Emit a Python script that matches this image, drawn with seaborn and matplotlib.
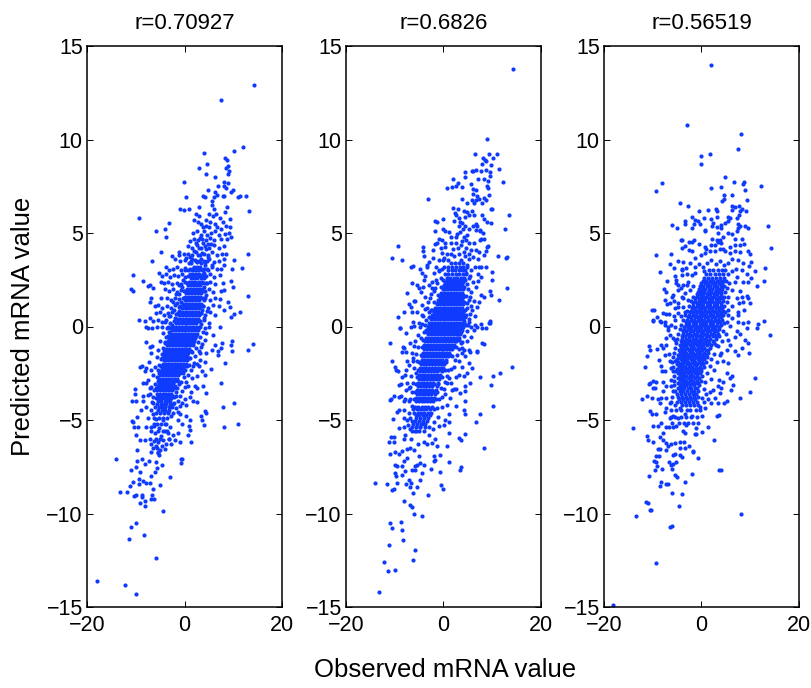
import matplotlib
matplotlib.use("Agg")
import matplotlib.pyplot as plt
import pandas as pd
import seaborn as sns

titles = ["r=0.70927", "r=0.6826", "r=0.56519"]
x_ticks = [-20, 0, 20]
y_ticks = [-15, -10, -5, 0, 5, 10, 15]

# points that can be told apart (observed, predicted)
points_a = [
    (14.3,12.9),(7.5,12.1),(12.1,9.6),(10.2,9.4),(3.9,9.3),(8.3,9.0),(8.8,8.9),(4.7,8.7),(2.9,8.5),(9.0,8.6),(8.5,8.5),(9.2,8.3),
    (9.0,8.15),(4.5,8.15),(6.3,8.0),(-0.1,7.75),(8.2,7.75),(8.9,7.65),(6.8,7.5),(8.0,7.5),(4.9,7.3),(8.6,7.4),(9.5,7.2),(9.9,7.3),
    (6.3,7.2),(6.7,7.05),(7.9,7.0),(8.2,7.0),(12.6,7.0),(11.3,7.0),(11.0,6.9),(3.8,7.0),(4.3,6.9),(0.4,6.9),(6.0,6.9),(5.7,6.7),
    (2.9,6.4),(-0.9,6.3),(-0.1,6.25),(0.9,6.3),(5.6,6.5),(6.1,6.3),(8.8,6.4),(13.3,6.2),(-9.4,5.8),(-3.2,5.55),(-4.1,5.2),(-5.8,5.1),
    (-3.8,4.8),(-4.8,4.0),(-6.7,3.5),(-10.6,2.75),(-8.5,2.45),(-10.9,2.0),(-10.6,1.9),(-7.5,2.15),(-7.0,2.2),(-6.5,2.05),(13.1,3.9),
    (11.7,3.15),(13.0,1.65),(11.3,0.8),(10.2,0.65),(9.5,0.5),(-9.4,0.35),(9.4,1.05),(8.85,1.3),(10.0,2.1),(9.5,2.45),(9.75,3.1),(10.1,3.55),
    (2.4,6.0),(3.0,5.9),(5.0,6.0),(5.8,5.9),(6.5,6.0),(7.2,5.8),(8.3,6.1),(2.0,5.7),(2.8,5.6),(3.4,5.5),(4.4,5.7),(5.2,5.6),(6.3,5.5),
    (7.8,5.6),(9.4,5.75),(3.8,5.3),(4.4,5.4),(5.0,5.3),(6.6,5.3),(7.4,5.2),(8.6,5.4),(9.4,5.3),(1.8,5.0),(2.6,5.1),(3.4,4.9),(4.0,5.1),
    (4.6,4.9),(5.4,5.0),(6.2,5.1),(7.0,4.9),(8.4,4.95),(9.2,5.0),(1.9,4.7),(2.8,4.6),(3.6,4.7),(4.4,4.6),(5.2,4.75),(6.0,4.6),(7.4,4.7),
    (8.8,4.7),(9.6,4.8),(0.8,4.3),(1.6,4.2),(2.6,4.35),(3.4,4.2),(4.2,4.3),(5.0,4.2),(6.0,4.35),(7.0,4.2),(8.0,4.3),(-1.2,4.0),(-1.2,3.8),
    (-0.2,3.9),(0.8,3.9),(1.6,3.8),(2.4,4.0),(3.2,3.85),(4.0,3.9),(4.8,3.8),(5.6,4.0),(6.6,3.85),(7.6,3.9),(8.6,3.9),(-2.6,3.75),(-2.0,3.6),
    (-1.0,3.5),(0.0,3.55),(0.9,3.4),(1.6,3.6),(2.6,3.45),(3.4,3.6),(4.2,3.45),(5.0,3.6),(6.0,3.45),(7.0,3.5),(8.2,3.6),(8.0,3.3),(-3.8,3.2),
    (-3.2,3.0),(-2.4,3.1),(-1.6,3.2),(-0.8,3.0),(0.0,3.15),(0.8,3.0),(4.0,3.1),(4.8,3.0),(5.6,3.2),(6.6,3.05),(7.4,3.1),(-5.2,2.85),(-4.6,2.7),
    (-3.8,2.8),(-3.0,2.65),(-2.2,2.75),(-1.4,2.7),(-0.6,2.8),(0.2,2.65),(4.4,2.7),(5.2,2.8),(6.0,2.65),(7.2,2.75),(-4.9,2.4),(-4.2,2.3),
    (-3.3,2.4),(-2.6,2.25),(-1.6,2.35),(-0.8,2.25),(0.1,2.4),(4.4,2.3),(5.2,2.4),(6.2,2.25),(7.8,2.3),(-4.0,2.0),(-3.2,1.9),(-2.4,2.0),
    (-1.6,1.85),(-0.8,1.95),(4.2,1.9),(5.0,2.0),(5.8,1.85),(7.4,1.9),(8.2,1.95),(-6.8,1.5),(-4.8,1.5),(-3.6,1.55),(-2.8,1.4),(-2.0,1.55),
    (-1.2,1.45),(4.2,1.5),(5.2,1.4),(6.2,1.55),(7.2,1.45),(-7.0,1.3),(-6.0,1.1),(-5.4,1.15),(-4.6,1.0),(-3.6,1.1),(-2.8,1.0),(-2.0,1.15),
    (-1.2,1.05),(3.8,1.1),(4.8,1.0),(5.8,1.15),(7.0,1.1),(8.0,0.9),(-5.8,0.7),(-5.0,0.75),(-4.2,0.6),(-3.4,0.7),(-2.6,0.8),(-1.8,0.65),
    (3.4,0.7),(4.2,0.6),(5.2,0.75),(6.2,0.6),(-8.2,0.3),(-7.0,0.45),(-6.4,0.3),(-5.4,0.35),(-4.6,0.25),(-3.8,0.35),(-3.0,0.2),(3.0,0.3),
    (4.0,0.35),(5.0,0.2),(-8.0,-0.05),(-7.4,-0.1),(-6.6,-0.1),(-5.6,-0.05),(-4.6,0.0),(-3.6,-0.1),(3.2,-0.05),(4.2,-0.1),(5.0,0.0),(7.2,-0.05),
    (14.0,-0.95),(13.0,-1.25),(9.7,-0.75),(9.5,-1.0),(9.75,-1.3),(8.4,-1.95),(7.6,-0.9),(7.5,-1.15),(6.9,-1.5),(6.9,-1.3),(7.4,-3.0),(10.2,-4.1),
    (7.9,-4.3),(11.05,-5.2),(8.2,-5.4),(4.4,-3.55),(3.85,-3.2),(2.5,-3.3),(5.35,-2.25),(4.2,-2.6),(1.8,-4.0),(2.6,-4.05),(4.2,-4.5),(4.4,-4.6),
    (3.4,-4.8),(3.5,-5.0),(4.1,-5.25),(0.9,-5.3),(1.1,-5.55),(0.75,-5.8),(1.3,-6.15),(-0.7,-7.1),(-0.55,-7.1),(-0.7,-7.3),(-3.0,-8.05),(-4.4,-9.85),
    (-9.9,-10.5),(-11.05,-10.7),(-11.3,-11.35),(-8.3,-11.15),(-5.9,-12.4),(-18.0,-13.6),(-12.15,-13.85),(-9.9,-14.3),(-14.0,-7.1),(-13.3,-8.85),
    (-11.7,-8.85),(-11.1,-8.55),(-10.6,-8.3),(-9.3,-8.15),(-8.6,-8.25),(-8.0,-8.35),(-7.0,-8.35),(-11.0,-7.7),(-9.9,-7.5),(-9.75,-7.2),(-8.8,-7.1),
    (-9.2,-7.8),(-8.2,-7.35),(-7.3,-7.2),(-6.9,-8.0),(-6.1,-7.8),(-5.6,-7.55),(-5.8,-7.25),(-4.7,-7.4),(-5.1,-8.45),(-10.4,-9.05),(-10.0,-9.0),
    (-8.8,-9.0),(-8.65,-9.1),(-6.45,-8.7),(-6.6,-9.0),(-6.2,-9.2),(-6.8,-9.25),(-8.2,-9.35),(-9.05,-9.45),(-8.2,-9.6),(-9.3,-8.4),
    (-7.8,-0.85),(-7.1,-1.1),(-6.6,-1.05),(-6.8,-1.4),(-7.3,-1.9),(-9.2,-2.15),(-8.8,-2.1),(-8.0,-2.2),(-8.2,-2.4),(-6.8,-2.3),(-10.2,-3.35),
    (-10.2,-3.6),(-10.85,-4.0),(-9.9,-4.0),(-8.6,-3.7),(-8.5,-3.0),(-7.8,-3.0),(-7.5,-2.85),(-7.1,-3.3),(-7.5,-3.65),(-8.5,-4.0),(-8.0,-4.3),
    (-8.85,-4.45),(-9.75,-4.85),(-10.7,-5.05),(-10.55,-5.1),(-10.3,-5.4),(-9.55,-5.4),(-10.0,-5.8),(-9.2,-6.05),(-8.2,-6.05),(-9.75,-6.6),
    (-7.8,-5.4),(-7.5,-4.9),(-6.8,-4.45),(-6.45,-4.1),(-6.8,-5.35),(-6.3,-5.3),(-6.8,-5.6),(-6.1,-5.7),(-7.1,-6.0),(-6.9,-6.3),(-6.45,-6.5),
    (-6.95,-6.7),(-5.4,-6.75),(-5.4,-6.7),(-5.3,-6.85),(-5.9,-6.4),(-4.7,-6.4),(-4.4,-6.05),(-3.7,-6.3),(-2.7,-6.3),(-2.0,-6.05),(-1.0,-6.2),
    (-2.3,-5.8),(-1.3,-5.7),(-0.6,-5.2),(-1.3,-5.0),(-3.0,-5.35),(-3.7,-5.2),(-2.7,-4.8),(-1.0,-4.7),(0.4,-4.8),(1.2,-5.0),(-1.0,-4.25),(0.4,-4.2),
    (1.1,-3.75),(2.1,-3.2),(1.4,-3.5),(2.5,-2.65),(3.5,-2.4),(4.2,-1.9),(3.2,-1.8),(5.6,-1.25),(6.2,-1.0),(4.5,-1.4),(3.2,-1.4),(4.2,-0.7),
    (5.9,-0.45),(4.5,-0.35),(1.8,-2.1),(2.5,-2.0),
]

# busier rim around the solid middle
fringe_a = [
    (1.3,3.4),(2.2,3.55),(3.3,3.37),(4.3,3.3),(4.8,3.72),(1.1,3.72),(2.7,3.82),(3.6,3.95),(1.9,4.05),(2.9,4.22),(4.5,4.12),(3.7,4.45),(2.3,4.48),(1.2,4.55),
    (5.4,4.4),(3.1,4.75),(4.9,4.42),(0.4,3.65),(5.7,3.3),(1.7,3.1),(3.9,2.85),(3.9,2.6),(4.1,2.1),(3.9,1.4),(4.4,1.7),(3.6,0.9),(3.9,0.45),(4.6,0.85),(3.4,0.15),
    (3.7,-0.3),(3.2,-0.55),(2.7,-0.85),(3.6,-0.95),(2.4,-1.15),(2.9,-1.3),(1.6,-1.35),(2.2,-1.6),(1.2,-1.7),(1.9,-1.95),(0.9,-2.05),(1.4,-2.35),(0.2,-2.35),(0.7,-2.6),
    (-0.2,-2.7),(0.4,-2.95),(-0.7,-2.95),(0.0,-3.25),(-1.2,-3.1),(-0.5,-3.45),(-1.7,-3.5),(-1.0,-3.7),(-2.1,-3.75),(-1.4,-4.0),(-2.2,-4.1),(-1.7,-4.35),(-2.4,-4.6),
    (-1.4,-4.55),(-0.5,-4.1),(0.1,-3.9),(0.8,-3.2),(1.5,-2.75),(2.9,-2.1),(3.4,-1.1),(0.2,3.0),(-0.3,2.5),(-0.6,2.1),(-0.1,1.9),(-1.2,1.75),(-0.7,1.3),(-1.6,1.25),
    (-1.1,0.85),(-2.2,0.9),(-1.9,0.45),(-2.9,0.55),(-2.5,0.1),(-3.3,0.0),(-3.2,-0.3),(-3.8,-0.55),(-4.1,-0.85),(-4.4,-1.15),(-4.7,-1.45),(-4.9,-1.75),(-5.2,-2.05),
    (-5.5,-2.35),(-5.7,-2.7),(-6.0,-3.05),(-6.2,-3.4),(-6.4,-3.75),(-6.6,-4.05),(-4.4,-0.35),(-5.0,-0.75),(-5.4,-1.25),(-5.7,-1.65),(-6.1,-2.15),(-6.4,-2.6),(-6.8,-3.25),
    (-7.0,-3.6),(-3.9,0.25),(-3.2,0.55),(-2.3,1.3),(-1.7,1.75),(-1.2,2.2),(-6.5,-4.7),(-5.9,-4.95),(-6.2,-5.2),(-5.2,-5.45),(-4.4,-5.0),(-3.3,-4.55),(-4.1,-5.6),(-3.4,-5.7),
    (-4.8,-5.85),(-5.4,-6.15),(-6.3,-6.1),(-5.6,-6.5),(-3.1,-6.0),(-3.9,-6.55),(-5.0,-6.6),
]

# solid middle of the cloud, by band: (predicted, observed values)
core_a = [
    (3.5,[1.4,2.3,3.0,3.9,4.6]),(3.2,[1.9,2.6,3.2]),(3.1,[1.1,1.8,2.5,3.2,4.0,4.7]),(3.0,[1.5,2.1,2.8,3.5]),(2.8,[1.2,1.8,2.4,3.0,3.7]),(2.7,[0.8,1.5,2.2,2.9,3.6,4.3]),
    (2.6,[1.4,2.0,2.6,3.3]),(2.4,[1.0,1.6,2.2,2.9,3.6]),(2.3,[0.5,1.2,1.9,2.5,3.3,4.0,4.6]),(2.2,[0.8,1.4,2.0,2.6,3.2]),(2.0,[0.6,1.2,1.8,2.4,3.0,3.6]),
    (1.9,[0.1,0.8,1.5,2.1,2.7,3.3,3.9]),(1.8,[0.4,1.0,1.6,2.2,2.8,3.4]),(1.6,[0.2,0.8,1.4,2.0,2.6,3.2]),(1.5,[-0.4,0.5,1.1,1.7,2.3,2.9,3.5,4.1]),
    (1.4,[0.0,0.6,1.2,1.8,2.4,3.0]),(1.2,[-0.3,0.3,0.9,1.5,2.1,2.7,3.3]),(1.1,[-0.9,-0.1,0.6,1.2,1.9,2.5,3.1,3.7]),(1.0,[-0.6,0.0,0.6,1.2,1.8,2.4,3.0]),
    (0.8,[-0.9,-0.3,0.3,0.9,1.5,2.1,2.7]),(0.7,[-1.4,-0.7,0.0,0.7,1.3,1.9,2.6,3.3]),(0.6,[-1.2,-0.6,0.0,0.6,1.2,1.8,2.4,3.0]),(0.4,[-1.5,-0.9,-0.3,0.3,0.9,1.5,2.1,2.7]),
    (0.3,[-2.1,-1.3,-0.6,0.1,0.8,1.4,2.0,2.6,3.2]),(0.2,[-1.8,-1.2,-0.6,0.0,0.6,1.2,1.8,2.4]),(0.0,[-2.4,-1.8,-1.2,-0.6,0.0,0.6,1.2,1.8,2.4,3.0]),
    (-0.1,[-2.9,-2.1,-1.5,-0.9,-0.3,0.3,0.9,1.5,2.1,2.7]),(-0.2,[-2.6,-2.0,-1.4,-0.8,-0.2,0.4,1.0,1.6,2.2,2.8]),(-0.4,[-2.9,-2.3,-1.7,-1.1,-0.5,0.1,0.7,1.3,1.9,2.5]),
    (-0.5,[-3.4,-2.6,-2.0,-1.4,-0.7,-0.1,0.5,1.1,1.7,2.3]),(-0.6,[-3.2,-2.6,-2.0,-1.4,-0.8,-0.2,0.4,1.0,1.6,2.2]),(-0.8,[-3.4,-2.8,-2.2,-1.6,-1.0,-0.4,0.2,0.8,1.4,2.0]),
    (-0.9,[-3.9,-3.1,-2.5,-1.9,-1.3,-0.7,-0.1,0.5,1.1,1.7]),(-1.0,[-3.6,-3.0,-2.4,-1.8,-1.2,-0.6,0.0,0.6,1.2,1.8]),(-1.2,[-3.8,-3.2,-2.6,-2.0,-1.4,-0.8,-0.2,0.4,1.0]),
    (-1.3,[-4.2,-3.5,-2.9,-2.3,-1.7,-1.1,-0.5,0.1,0.7,1.3]),(-1.4,[-4.0,-3.4,-2.8,-2.2,-1.6,-1.0,-0.4,0.2,0.8]),(-1.6,[-4.2,-3.6,-3.0,-2.4,-1.8,-1.2,-0.6,0.0,0.6]),
    (-1.7,[-4.6,-3.9,-3.3,-2.7,-2.1,-1.5,-0.9,-0.3,0.3,0.9]),(-1.8,[-4.3,-3.7,-3.1,-2.5,-1.9,-1.3,-0.7,-0.1,0.5]),(-2.0,[-4.5,-3.9,-3.3,-2.7,-2.1,-1.5,-0.9,-0.3,0.3]),
    (-2.1,[-4.9,-4.2,-3.6,-3.0,-2.4,-1.8,-1.2,-0.6,0.0,0.6]),(-2.2,[-4.6,-4.0,-3.4,-2.8,-2.2,-1.6,-1.0,-0.4]),(-2.4,[-4.8,-4.2,-3.6,-3.0,-2.4,-1.8,-1.2,-0.6]),
    (-2.5,[-5.2,-4.5,-3.9,-3.3,-2.7,-2.1,-1.5,-0.9,-0.3]),(-2.6,[-5.0,-4.4,-3.8,-3.2,-2.6,-2.0,-1.4]),(-2.8,[-5.2,-4.6,-4.0,-3.4,-2.8,-2.2,-1.6]),
    (-2.9,[-5.5,-4.9,-4.3,-3.7,-3.1,-2.5,-1.9,-1.3]),(-3.0,[-5.3,-4.7,-4.1,-3.5,-2.9,-2.3]),(-3.2,[-5.5,-4.9,-4.3,-3.7,-3.1,-2.5,-1.9]),
    (-3.3,[-5.8,-5.2,-4.6,-4.0,-3.4,-2.8,-2.2,-1.6]),(-3.4,[-5.6,-5.0,-4.4,-3.8,-3.2,-2.6]),(-3.6,[-5.7,-5.1,-4.5,-3.9,-3.3,-2.7]),(-3.7,[-5.5,-4.8,-4.2,-3.6,-3.0,-2.4,-1.8]),
    (-3.8,[-5.8,-5.2,-4.6,-4.0,-3.4,-2.8]),(-4.0,[-5.5,-4.8,-4.1,-3.5,-2.9]),(-4.15,[-5.6,-4.9,-4.3,-3.7,-3.0,-2.3]),(-4.3,[-6.0,-5.3,-4.6,-3.9,-3.2,-2.5]),
    (-4.45,[-5.4,-4.7,-4.0,-3.1]),(-4.6,[-5.8,-5.0,-4.2,-3.4]),(-4.9,[-6.2,-5.3,-4.5,-3.6]),(-5.2,[-5.7,-4.9,-4.1]),(-5.6,[-5.4,-4.5,-3.5]),(-6.0,[-5.9,-5.0,-3.2]),
]

points_b = [
    (14.35,13.75),(8.85,10.05),(11.05,9.25),(9.3,9.2),(6.5,9.2),(10.2,9.0),(8.15,9.0),(8.45,8.9),(7.8,8.7),(8.8,8.85),(9.7,8.65),(8.8,8.35),
    (7.75,8.3),(11.4,8.4),(9.45,8.25),(5.75,8.3),(6.6,8.35),(6.05,8.3),(4.5,8.25),(4.5,8.0),(2.05,7.9),(7.05,7.9),(8.3,7.9),(9.45,8.05),(9.2,7.8),
    (12.2,7.75),(2.9,7.65),(2.6,7.5),(1.8,7.45),(0.75,7.4),(3.85,7.45),(5.55,7.6),(9.0,7.5),(9.2,7.4),(6.05,7.35),(6.65,7.3),(9.35,7.05),(3.85,6.8),
    (-3.15,6.8),(6.05,7.1),(6.95,7.0),(8.3,6.85),(6.6,6.75),(7.3,6.8),(4.9,6.6),(5.75,6.75),(6.25,6.6),(8.0,6.6),(8.65,6.75),(2.05,6.35),(2.9,6.3),
    (9.7,6.3),(10.0,6.3),(4.2,6.2),(4.9,6.1),(5.75,6.2),(6.25,5.95),(8.0,5.95),(8.3,5.75),(2.3,6.05),(2.5,5.95),(5.2,5.95),(13.5,5.95),(4.5,5.85),
    (-1.65,5.65),(-1.3,5.6),(-0.05,5.75),(2.1,5.65),(3.15,5.8),(3.3,5.6),(3.85,5.55),(6.6,5.5),(9.0,5.6),(9.75,5.55),(12.7,5.2),(3.2,5.4),(3.9,5.2),
    (4.5,5.35),(5.3,5.2),(6.0,5.35),(6.8,5.4),(7.5,5.1),(8.2,5.0),(-1.8,5.1),(-0.15,5.2),(0.4,5.1),(1.1,5.05),(1.45,4.8),(2.5,4.8),(3.45,5.05),(4.2,4.8),
    (4.9,4.9),(6.6,5.15),(7.4,5.15),(8.3,4.7),(7.5,4.6),(7.75,4.7),(-0.95,4.7),(-0.3,4.6),(-1.65,4.4),(-1.3,4.45),(0.4,4.45),(1.45,4.45),(2.5,4.45),
    (3.85,4.55),(5.2,4.45),(6.25,4.45),(9.0,4.25),(8.8,4.05),(9.2,4.3),(-9.4,4.3),(-4.2,4.25),(-4.25,4.05),(-2.25,4.1),(-0.6,4.2),(0.4,4.25),
    (-10.55,3.65),(-8.5,3.55),(11.1,3.75),(13.1,3.7),(12.9,3.65),(-4.0,3.75),(-2.15,3.65),(-3.0,3.45),(-6.6,3.2),(-6.3,3.25),(-4.9,3.1),(-3.4,3.2),
    (-3.4,3.3),(-1.0,3.55),(0.75,3.9),(1.45,3.9),(1.0,3.55),(2.1,3.75),(3.15,3.9),(4.2,4.0),(5.2,3.9),(6.6,4.1),(7.3,4.0),(8.3,3.8),(7.75,3.2),(8.65,3.2),
    (7.3,3.2),(10.0,2.9),(10.0,2.5),(12.95,2.05),(9.6,1.9),(9.7,1.7),(11.35,1.4),(9.5,0.3),(9.5,0.2),(7.75,0.15),(8.65,-0.1),(-6.45,2.35),(-5.4,2.2),
    (-5.1,2.05),(-4.7,1.85),(-4.0,2.5),(-3.7,2.7),(-4.4,2.85),(-4.25,2.1),(-3.0,2.2),(-2.35,2.05),(-1.65,2.05),(-1.3,2.3),(-0.6,2.6),(-2.0,2.85),(-1.0,3.0),
    (0.05,3.2),(-7.5,1.8),(-6.1,1.35),(-7.15,1.2),(-6.6,1.05),(-8.15,0.75),(-9.4,0.5),(-8.85,-0.1),(-5.75,1.35),(-6.5,0.8),(-5.4,0.8),(-4.4,1.15),(-3.7,1.6),
    (-2.7,1.5),(-4.4,0.6),(-5.1,0.2),(-6.1,0.05),(-3.4,1.0),(-2.6,0.9),(4.9,3.3),(5.7,3.0),(6.4,3.2),(7.1,2.8),(5.2,2.6),(6.0,2.4),(7.0,2.45),(7.6,2.65),
    (5.0,2.0),(5.7,1.85),(6.6,2.1),(7.7,1.7),(8.3,1.6),(5.2,1.4),(6.3,1.35),(7.2,1.3),(4.9,1.0),(5.9,0.9),(6.9,1.05),(4.6,0.6),(5.5,0.65),(6.5,0.55),(4.3,0.3),
    (5.2,0.25),(6.4,0.1),(6.9,0.0),(14.0,-2.15),(11.65,-2.5),(10.2,-2.65),(7.4,-2.7),(9.75,-3.15),(10.1,-4.25),(7.5,-4.7),(6.65,-5.1),(4.4,-5.75),(8.25,-6.5),
    (3.15,-5.95),(3.55,-6.05),(0.75,-6.4),(1.1,-7.25),(3.55,-7.5),(3.35,-7.7),(-0.75,-7.8),(-0.6,-8.45),(-0.05,-8.7),(-3.15,-9.0),(-2.6,-7.6),(-2.0,-7.2),
    (-1.65,-7.15),(-0.75,-6.85),(-1.9,-6.9),(-1.3,-6.4),(-2.35,-6.25),(-3.35,-6.3),(-4.05,-6.15),(-1.65,-6.0),(-3.0,-5.8),(-1.0,-5.3),(0.05,-5.25),(1.1,-5.7),
    (1.1,-5.1),(0.4,-5.0),(1.1,-4.7),(2.5,-4.25),(4.2,-4.45),(4.4,-4.7),(4.5,-4.0),(1.25,-3.8),(0.75,-4.2),(1.8,-3.4),(2.15,-3.35),(2.6,-3.35),(3.3,-3.55),
    (4.5,-3.45),(4.4,-3.2),(5.5,-3.0),(4.2,-2.65),(3.15,-2.6),(4.9,-2.5),(5.9,-2.2),(5.2,-1.95),(3.85,-2.15),(2.15,-2.15),(1.1,-2.75),(1.45,-3.0),(-0.3,-3.75),
    (7.95,-0.9),(8.35,-0.95),(6.95,-1.3),(6.8,-1.35),(5.2,-1.25),(5.4,-1.35),(3.85,-1.15),(3.5,-0.9),(3.15,-0.6),(5.55,-0.55),(6.25,-0.2),(4.4,-1.6),(3.7,-1.4),
    (7.8,-0.1),(9.35,0.2),(-10.9,-0.9),(-8.35,-1.1),(-8.5,-1.35),(-7.6,-1.35),(-8.15,-1.15),(-8.85,-0.1),(-7.7,-0.35),(-6.6,0.0),(-6.25,0.25),(-6.8,-0.9),(-6.1,-1.05),
    (-6.45,-1.4),(-7.5,-1.85),(-7.15,-2.05),(-6.3,-1.85),(-10.55,-1.85),(-9.9,-2.15),(-9.7,-2.35),(-9.35,-2.4),(-7.7,-2.3),(-7.85,-2.6),(-8.5,-2.7),(-9.2,-3.15),
    (-8.7,-3.05),(-7.5,-3.0),(-7.6,-3.4),(-7.15,-3.3),(-10.1,-3.7),(-10.8,-3.9),(-10.9,-3.95),(-9.05,-3.75),(-8.7,-3.7),(-7.85,-3.9),(-8.15,-4.0),(-7.15,-4.0),
    (-9.5,-4.55),(-9.2,-4.45),(-8.2,-4.45),(-10.35,-4.95),(-8.0,-4.9),(-7.5,-5.0),(-6.8,-4.9),(-9.05,-5.45),(-8.15,-5.35),(-7.85,-5.8),(-8.15,-6.0),(-10.8,-5.9),
    (-10.1,-5.9),(-10.25,-6.15),(-11.1,-6.2),(-10.9,-6.8),(-9.9,-6.7),(-9.2,-6.8),(-8.5,-6.65),(-7.5,-6.55),(-6.8,-6.5),(-7.5,-7.05),(-8.15,-7.2),(-8.5,-7.45),
    (-10.0,-7.4),(-9.5,-7.45),(-10.0,-7.85),(-9.7,-8.0),(-8.5,-7.95),(-7.85,-7.75),(-6.45,-7.7),(-5.75,-7.65),(-14.0,-8.35),(-11.6,-8.4),(-9.55,-8.35),(-10.25,-8.7),
    (-10.55,-8.75),(-7.7,-8.4),(-7.15,-8.2),(-6.6,-8.35),(-6.8,-8.6),(-6.3,-8.9),(-5.4,-8.6),(-4.9,-8.2),(-4.5,-7.85),(-5.4,-7.4),(-5.75,-7.45),(-4.75,-7.3),(-4.05,-7.4),
    (-5.1,-6.95),(-8.15,-9.35),(-6.8,-9.55),(-6.45,-9.65),(-6.05,-10.0),(-4.4,-10.15),(-10.9,-10.5),(-10.55,-10.75),(-8.8,-10.45),(-8.5,-10.9),(-8.35,-11.4),(-11.1,-11.7),
    (-5.9,-11.95),(-6.25,-12.5),(-12.2,-12.6),(-9.95,-13.0),(-11.3,-13.1),(-13.3,-14.2),(-6.6,-6.0),(-5.6,-5.6),(-6.9,-5.5),(-6.0,-6.6),(-5.2,-6.3),(-4.8,-5.4),(-3.9,-5.2),
]

fringe_b = [
    (-0.9,2.95),(-0.2,3.55),(-1.5,2.5),(-2.3,2.4),(-1.9,1.9),(-2.6,1.75),(-3.1,1.3),(-3.7,0.95),(-2.9,0.75),(-4.2,0.55),(-3.6,0.35),(-4.4,0.15),(-4.9,-0.05),(-5.3,-0.45),
    (-4.6,-0.6),(-5.8,-0.8),(-5.2,-1.1),(-5.7,-1.45),(-6.3,-1.7),(-5.5,-1.85),(-6.1,-2.2),(-5.7,-2.5),(-6.6,-2.65),(-6.2,-3.0),(-6.8,-3.25),(-6.4,-3.5),(-6.9,-3.9),(-6.5,-4.25),
    (-7.1,-4.6),(-6.5,-5.6),(-7.3,-5.25),(4.7,2.85),(5.2,3.6),(3.5,3.55),(4.4,3.75),(5.5,2.7),(4.9,2.25),(4.6,1.65),(5.4,1.6),(4.9,1.25),(5.6,1.1),(5.3,0.4),(5.0,0.1),(5.7,-0.05),
    (4.9,-0.25),(4.3,-0.5),(4.8,-0.8),(3.8,-0.85),(4.3,-1.25),(3.2,-1.2),(2.7,-1.5),(3.1,-1.85),(2.3,-1.8),(1.7,-1.6),(1.5,-2.25),(0.9,-2.3),(0.7,-2.65),(2.5,-2.7),(0.3,-2.95),
    (0.1,-3.35),(-0.6,-3.3),(-0.3,-4.3),(-1.0,-3.9),(-1.4,-4.35),(-1.1,-4.85),(-2.0,-5.1),(-2.2,-5.5),(0.4,-3.6),(0.7,-3.0),(2.8,4.95),(3.6,4.35),(4.6,4.6),(2.0,4.15),(3.0,4.2),
    (5.7,4.1),(4.6,4.2),(6.0,3.7),(7.0,3.6),(-0.3,3.95),(0.2,3.65),(-1.5,3.2),(-0.4,3.1),
]

core_b = [
    (3.4,[1.5,2.3,3.1,3.9]),(3.2,[0.9,1.7,2.5,3.3,4.1,4.8]),(3.0,[1.0,1.7,2.4,3.1,3.8,4.5]),(2.8,[0.3,1.0,1.8,2.5,3.2,3.9,4.6]),(2.6,[0.7,1.4,2.1,2.8,3.5,4.2]),
    (2.5,[0.0,0.7,1.3,1.9,2.5,3.1,3.7,4.4]),(2.4,[0.4,1.0,1.6,2.2,2.8,3.4,4.0]),(2.2,[0.1,0.7,1.3,1.9,2.5,3.1,3.7]),(2.1,[-0.6,0.1,0.7,1.3,1.9,2.5,3.1,3.7,4.3]),
    (2.0,[-0.2,0.4,1.0,1.6,2.2,2.8,3.4,4.0]),(1.8,[-0.5,0.1,0.7,1.3,1.9,2.5,3.1,3.7]),(1.7,[-1.1,-0.4,0.4,1.0,1.6,2.2,2.8,3.4,4.1]),(1.6,[-0.8,-0.2,0.4,1.0,1.6,2.2,2.8,3.4,4.0]),
    (1.4,[-1.1,-0.5,0.1,0.7,1.3,1.9,2.5,3.1,3.7]),(1.3,[-1.9,-1.1,-0.5,0.1,0.7,1.3,1.9,2.5,3.1,3.7,4.3]),(1.2,[-1.4,-0.8,-0.2,0.4,1.0,1.6,2.2,2.8,3.4,4.0]),
    (1.0,[-1.7,-1.1,-0.5,0.1,0.7,1.3,1.9,2.5,3.1,3.7]),(0.9,[-2.4,-1.7,-1.1,-0.5,0.1,0.7,1.3,1.9,2.5,3.1,3.7,4.4]),(0.8,[-2.0,-1.4,-0.8,-0.2,0.4,1.0,1.6,2.2,2.8,3.4,4.0]),
    (0.6,[-2.3,-1.7,-1.1,-0.5,0.1,0.7,1.3,1.9,2.5,3.1,3.7,4.3]),(0.5,[-3.0,-2.3,-1.7,-1.1,-0.5,0.1,0.7,1.3,1.9,2.5,3.1,3.7,4.5]),(0.4,[-2.6,-2.0,-1.4,-0.8,-0.2,0.4,1.0,1.6,2.2,2.8,3.4,4.0]),
    (0.2,[-2.9,-2.3,-1.7,-1.1,-0.5,0.1,0.7,1.3,1.9,2.5,3.1,3.7,4.3]),(0.1,[-3.7,-2.9,-2.3,-1.7,-1.1,-0.5,0.1,0.7,1.3,1.9,2.5,3.1,3.7,4.6]),
    (0.0,[-3.2,-2.6,-2.0,-1.4,-0.8,-0.2,0.4,1.0,1.6,2.2,2.8,3.4,4.0]),(-0.2,[-3.5,-2.9,-2.3,-1.7,-1.1,-0.5,0.1,0.7,1.3,1.9,2.5,3.1,3.7]),
    (-0.3,[-4.1,-3.3,-2.7,-2.1,-1.5,-0.9,-0.3,0.3,0.9,1.5,2.1,2.7,3.5]),(-0.4,[-3.2,-2.6,-2.0,-1.4,-0.8,-0.2,0.4,1.0,1.6,2.2,2.8,3.4]),
    (-0.6,[-3.5,-2.9,-2.3,-1.7,-1.1,-0.5,0.1,0.7,1.3,1.9,2.5,2.9]),(-0.7,[-4.3,-3.5,-2.9,-2.3,-1.7,-1.1,-0.5,0.1,0.7,1.3,1.9,2.5,3.1]),
    (-0.8,[-3.7,-3.1,-2.5,-1.9,-1.3,-0.7,-0.1,0.5,1.1,1.7,2.3,2.6]),(-1.0,[-3.9,-3.3,-2.7,-2.1,-1.5,-0.9,-0.3,0.3,0.9,1.5,2.1]),
    (-1.1,[-4.5,-3.7,-3.1,-2.5,-1.9,-1.3,-0.7,-0.1,0.5,1.1,1.9,2.6]),(-1.2,[-4.0,-3.4,-2.8,-2.2,-1.6,-1.0,-0.4,0.2,0.8,1.4,1.7]),
    (-1.4,[-4.2,-3.6,-3.0,-2.4,-1.8,-1.2,-0.6,0.0,0.6,1.2]),(-1.5,[-4.7,-4.1,-3.5,-2.9,-2.3,-1.7,-1.1,-0.5,0.1,0.7,1.4]),(-1.6,[-4.4,-3.8,-3.2,-2.6,-2.0,-1.4,-0.8,-0.2,0.4,0.9]),
    (-1.8,[-4.5,-3.9,-3.3,-2.7,-2.1,-1.5,-0.9,-0.3,0.5]),(-1.9,[-5.0,-4.3,-3.7,-3.1,-2.5,-1.9,-1.3,-0.7,-0.1,0.6]),(-2.0,[-4.7,-4.1,-3.5,-2.9,-2.3,-1.7,-1.1,-0.5,0.2]),
    (-2.2,[-4.8,-4.2,-3.6,-3.0,-2.4,-1.8,-1.2,-0.6,-0.1]),(-2.3,[-5.2,-4.5,-3.9,-3.3,-2.7,-2.1,-1.5,-0.9,-0.3,0.4]),(-2.4,[-4.9,-4.3,-3.7,-3.1,-2.5,-1.9,-1.3,-0.4]),
    (-2.6,[-5.0,-4.4,-3.8,-3.2,-2.6,-2.0,-1.4,-0.7]),(-2.7,[-5.4,-4.7,-4.1,-3.5,-2.9,-2.3,-1.7,-1.2,-0.4]),(-2.8,[-5.1,-4.5,-3.9,-3.3,-2.7,-2.1,-1.5,-1.0]),
    (-3.0,[-5.2,-4.6,-4.0,-3.4,-2.8,-2.2,-1.2]),(-3.1,[-5.6,-4.9,-4.3,-3.7,-3.1,-2.5,-1.9,-1.1]),(-3.2,[-5.3,-4.7,-4.1,-3.5,-2.9,-2.3,-1.4]),(-3.4,[-5.4,-4.8,-4.2,-3.6,-3.0,-2.4,-1.6]),
    (-3.5,[-5.8,-5.1,-4.5,-3.9,-3.3,-2.7,-2.1,-1.3]),(-3.6,[-5.5,-4.9,-4.3,-3.7,-3.1,-2.5,-1.8]),(-3.8,[-5.6,-5.0,-4.4,-3.8,-3.2,-2.6,-2.0]),(-3.9,[-6.0,-5.3,-4.7,-4.1,-3.5,-2.9,-2.3,-1.6]),
    (-4.0,[-5.7,-5.1,-4.5,-3.9,-3.3,-2.7,-2.1]),(-4.3,[-5.9,-5.2,-4.5,-3.8,-3.1,-2.4]),(-4.4,[-6.3,-5.5,-4.9,-4.2,-3.5,-2.8,-2.0]),(-4.6,[-6.0,-5.3,-4.6,-3.9,-3.2,-2.5]),
    (-4.75,[-5.7,-5.1,-4.3,-3.5,-2.7]),(-4.9,[-5.6,-4.8,-4.0,-3.2]),(-5.05,[-6.5,-5.8,-5.0,-4.2,-3.4]),(-5.2,[-6.2,-5.4,-4.6,-3.8]),(-5.4,[-6.4,-5.6,-4.8,-3.7,-3.0]),(-5.6,[-5.9,-5.0,-4.1]),
]

points_c = [
    (1.85,14.0),(-2.9,10.75),(8.1,10.3),(7.4,9.5),(1.7,9.25),(-0.05,9.1),(-0.05,8.7),(4.8,8.0),(6.7,7.75),(8.7,7.75),(8.6,7.6),(-8.15,7.7),(-9.25,7.25),(1.85,7.4),
    (4.1,7.45),(12.15,7.5),(9.0,7.3),(4.65,7.05),(6.2,7.05),(4.6,6.8),(4.25,6.7),(9.25,6.75),(-4.45,6.6),(-2.75,6.45),(6.2,6.45),(6.85,6.4),(7.7,6.45),(8.25,6.3),
    (6.3,6.25),(8.0,6.2),(9.05,6.2),(2.9,6.3),(3.2,6.15),(1.35,6.25),(-0.55,6.15),(-1.9,5.85),(0.55,5.8),(1.85,5.75),(3.1,5.85),(5.5,5.85),(5.85,5.8),(7.2,5.8),(7.7,5.95),
    (5.5,5.65),(4.8,5.55),(3.9,5.45),(2.4,5.55),(2.2,5.35),(-1.35,5.7),(-0.7,5.65),(-0.35,5.5),(-3.3,5.65),(-3.45,5.5),(-1.5,5.5),(-6.1,5.45),(-5.05,5.25),(-2.05,5.25),
    (0.7,5.15),(0.8,5.1),(3.1,5.3),(4.1,5.25),(7.95,5.4),(7.55,5.5),(8.95,5.4),(9.5,5.25),(13.55,5.4),(7.55,5.25),(7.2,5.1),(3.45,5.0),(5.5,5.0),(6.2,4.95),(6.85,4.7),
    (8.25,4.7),(2.2,4.7),(3.1,4.65),(3.8,4.65),(4.5,4.8),(-4.25,4.6),(-3.9,4.6),(-2.55,4.5),(-1.5,4.65),(-2.05,4.5),(-3.45,4.3),(-3.9,4.2),(-2.55,4.1),(-1.85,4.05),
    (-0.6,4.4),(0.7,4.25),(1.0,4.15),(1.85,4.35),(2.75,4.35),(3.45,4.5),(4.1,4.45),(4.45,4.15),(5.85,4.25),(6.85,4.35),(8.0,4.35),(8.8,4.4),(14.3,4.2),(-9.4,3.85),
    (-6.25,3.9),(9.6,4.05),(10.0,3.9),(8.0,4.0),(6.85,4.05),(5.85,3.95),(4.8,4.05),(3.8,4.15),(2.75,4.05),(1.7,4.05),(0.7,3.95),(-0.15,3.8),(-1.35,3.65),(-6.45,3.35),
    (-5.7,3.15),(-4.8,3.5),(-3.8,3.45),(-2.4,3.4),(-1.35,3.2),(-3.9,3.0),(-4.0,3.05),(-3.1,3.15),(-8.45,2.9),(-7.0,2.45),(-5.35,2.7),(-5.3,2.5),(-5.3,2.35),(-4.1,2.75),
    (-2.9,2.8),(-2.05,2.75),(-1.35,2.85),(-2.75,2.4),(-3.8,2.2),(-4.8,2.2),(-4.2,2.05),(-2.9,2.2),(-7.6,2.0),(-7.25,1.85),(-5.85,1.7),(-6.05,1.6),(-4.8,1.95),(-4.0,1.6),
    (-3.45,1.8),(-2.4,1.95),(-1.7,2.15),(-7.4,1.4),(-7.15,1.2),(-5.6,1.35),(-6.5,1.25),(-4.8,1.25),(-3.8,1.5),(-2.75,1.4),(-10.1,0.9),(-9.8,0.9),(-7.8,0.7),(-7.35,0.65),
    (-6.7,0.65),(-5.5,1.0),(-4.8,1.05),(-3.8,1.05),(-5.6,0.55),(-4.8,0.7),(-3.45,0.8),(-10.05,0.35),(-9.1,0.5),(-8.5,0.3),(-7.5,0.25),(-6.95,0.0),(-6.2,0.1),(-5.35,0.35),
    (-4.3,0.55),(10.15,3.45),(11.0,2.95),(13.0,3.15),(12.9,2.45),(11.3,2.15),(9.25,2.8),(10.1,2.6),(9.45,2.4),(7.55,3.55),(8.6,3.4),(9.75,3.25),(8.25,3.0),(7.05,3.1),
    (6.2,2.95),(7.2,2.65),(6.85,2.4),(8.6,2.4),(7.9,1.9),(8.25,1.6),(6.2,1.95),(5.15,2.05),(5.5,1.6),(9.25,1.65),(9.6,1.5),(7.7,1.25),(8.6,1.3),(9.95,1.25),(8.8,0.9),
    (7.55,0.8),(7.55,0.6),(5.35,0.6),(5.15,0.25),(7.55,0.25),(9.45,0.25),(8.6,0.2),(12.9,0.3),(11.65,0.15),(6.2,0.45),(6.3,1.1),(7.2,1.5),(11.4,-0.1),(14.0,-0.45),(9.6,-0.9),
    (8.9,-0.7),(9.75,-1.4),(8.35,-1.15),(6.85,-1.3),(7.4,-1.5),(7.9,-0.4),(9.25,-0.1),(7.2,-0.25),(6.85,-0.55),(5.5,-0.7),(5.85,-1.0),(5.15,-1.25),(5.5,-1.95),(4.45,-1.85),
    (4.1,-1.4),(3.45,-1.05),(11.05,-2.75),(10.0,-3.5),(7.9,-3.85),(6.45,-3.15),(5.95,-3.4),(6.2,-2.65),(5.85,-2.75),(5.3,-2.5),(5.15,-4.0),(4.65,-4.1),(3.65,-4.75),(3.2,-4.8),
    (3.8,-3.55),(3.45,-4.1),(2.05,-4.1),(2.75,-3.85),(4.1,-3.3),(3.45,-3.2),(4.45,-2.95),(3.55,-2.85),(2.4,-3.4),(1.7,-3.5),(1.35,-3.9),(0.7,-4.35),(0.15,-4.8),(1.35,-5.35),
    (0.15,-5.65),(-1.15,-5.75),(2.55,-6.05),(-0.75,-7.05),(-1.7,-6.65),(-1.85,-7.9),(3.5,-7.65),(4.05,-7.7),(-3.45,-8.3),(-4.1,-8.95),(-4.6,-9.6),(8.1,-10.0),(-6.0,-10.65),
    (-6.4,-10.7),(-9.4,-12.65),(-18.1,-14.9),(-13.4,-10.15),(-11.35,-9.4),(-11.0,-9.45),(-10.5,-9.8),(-10.3,-9.8),(-5.95,-8.9),(-8.45,-8.55),(-8.35,-8.3),(-7.2,-8.4),(-6.85,-8.4),
    (-10.85,-8.0),(-9.45,-7.65),(-9.15,-7.45),(-8.1,-7.6),(-9.75,-7.2),(-9.4,-7.25),(-6.65,-7.25),(-6.2,-7.4),(-5.85,-7.35),(-5.15,-7.25),(-6.05,-7.6),(-5.5,-7.95),(-4.95,-8.05),
    (-9.25,-6.9),(-8.8,-6.9),(-8.9,-6.55),(-8.45,-6.55),(-5.85,-6.85),(-5.5,-6.8),(-4.45,-6.85),(-4.1,-7.0),(-14.05,-5.45),(-11.2,-5.85),(-11.0,-6.05),(-9.95,-6.2),(-8.45,-5.9),
    (-7.9,-5.7),(-7.9,-6.05),(-7.35,-6.25),(-7.35,-6.6),(-6.85,-6.4),(-6.2,-6.3),(-5.5,-6.25),(-4.45,-6.5),(-4.45,-6.15),(-3.55,-6.15),(-3.3,-6.5),(-2.6,-6.4),(-1.7,-6.7),(-3.45,-5.7),
    (-3.8,-5.6),(-1.35,-5.75),(-3.1,-5.25),(-1.7,-5.15),(-1.05,-5.45),(-9.95,-5.3),(-8.9,-5.3),(-8.25,-5.15),(-9.25,-4.7),(-10.15,-4.7),(-10.65,-4.5),(-7.35,-5.35),(-6.7,-5.35),
    (-5.85,-5.35),(-5.15,-5.3),(-4.8,-4.9),(-5.85,-4.8),(-6.5,-4.9),(-7.2,-4.35),(-7.55,-4.55),(-8.6,-4.1),(-8.9,-3.9),(-10.15,-3.8),(-11.2,-3.7),(-12.2,-3.9),(-8.25,-3.8),(-7.2,-3.8),
    (-6.5,-4.1),(-5.5,-4.2),(-4.45,-4.35),(-3.45,-4.7),(-2.05,-4.8),(-10.65,-3.0),(-10.85,-3.1),(-9.95,-2.9),(-9.4,-2.95),(-9.95,-3.3),(-9.6,-3.3),(-7.9,-2.95),(-7.9,-3.45),(-7.35,-3.2),
    (-6.2,-2.85),(-6.3,-3.2),(-5.5,-3.45),(-11.65,-2.15),(-10.8,-1.05),(-10.65,-1.25),(-11.1,-1.6),(-9.2,-1.2),(-8.7,-1.8),(-8.25,-1.0),(-7.9,-1.15),(-7.2,-1.0),(-7.55,-1.5),(-8.25,-2.1),
    (-8.05,-2.4),(-7.4,-2.4),(-6.5,-1.85),(-6.2,-2.2),(-6.7,-1.45),(-5.5,-1.85),(-5.5,-2.4),(-9.95,0.3),(-8.25,0.25),(-7.4,0.1),(-6.85,-0.2),(-6.5,-0.45),(-5.5,0.0),(-5.85,-0.6),(-7.2,-0.6),(-5.5,-0.7),
]

fringe_c = [
    (-0.5,3.35),(0.3,3.2),(1.1,3.4),(1.9,3.55),(2.9,3.35),(3.8,3.5),(4.7,3.3),(5.5,3.4),(6.2,3.6),(0.6,2.95),(5.4,2.8),(4.8,3.0),(5.7,2.3),(5.2,1.3),(5.4,0.9),(4.9,0.75),(4.7,0.2),(5.8,0.05),
    (4.4,-0.25),(5.0,-0.4),(3.6,-0.5),(4.2,-0.8),(3.0,-1.0),(3.7,-1.55),(2.6,-1.45),(3.1,-1.9),(2.0,-1.75),(1.7,-2.1),(2.6,-2.35),(1.2,-2.5),(1.9,-2.8),(0.7,-2.95),(0.5,-3.35),(1.0,-3.6),
    (0.1,-3.85),(0.6,-4.05),(-0.3,-4.3),
]

core_c = [
    (3.0,[1.5,2.4,3.3,4.2]),(2.8,[0.9,1.8,2.7,3.6,4.5]),(2.6,[0.6,1.4,2.2,3.0,3.8,4.6]),(2.45,[0.3,1.0,1.7,2.4,3.1,3.8,4.5,5.0]),(2.3,[0.0,0.7,1.4,2.1,2.8,3.5,4.2]),
    (2.15,[-0.3,0.4,1.1,1.8,2.5,3.2,3.9,4.7]),(2.0,[-0.6,0.1,0.8,1.5,2.2,2.9,3.6,4.3]),(1.85,[-0.8,-0.1,0.6,1.3,2.0,2.7,3.4,4.1,4.8]),(1.75,[-1.0,-0.3,0.4,1.1,1.8,2.5,3.2,3.9]),
    (1.6,[-1.7,-0.9,-0.2,0.5,1.2,1.9,2.6,3.3,4.0,4.7]),(1.5,[-1.3,-0.6,0.1,0.8,1.5,2.2,2.9,3.6,4.3]),(1.35,[-2.1,-1.3,-0.6,0.1,0.8,1.5,2.2,2.9,3.6,4.4]),
    (1.25,[-1.7,-1.0,-0.3,0.4,1.1,1.8,2.5,3.2,3.9]),(1.1,[-2.6,-1.7,-1.0,-0.3,0.4,1.1,1.8,2.5,3.2,3.9,4.7]),(1.0,[-2.0,-1.3,-0.6,0.1,0.8,1.5,2.2,2.9,3.6,4.3]),
    (0.85,[-3.0,-2.1,-1.4,-0.7,0.0,0.7,1.4,2.1,2.8,3.5,4.4]),(0.75,[-2.4,-1.7,-1.0,-0.3,0.4,1.1,1.8,2.5,3.2,3.9]),(0.6,[-3.4,-2.5,-1.8,-1.1,-0.4,0.3,1.0,1.7,2.4,3.1,3.8,4.5]),
    (0.5,[-2.8,-2.1,-1.4,-0.7,0.0,0.7,1.4,2.1,2.8,3.5,4.1]),(0.35,[-3.8,-2.9,-2.2,-1.5,-0.8,-0.1,0.6,1.3,2.0,2.7,3.4,4.3]),(0.25,[-3.2,-2.5,-1.8,-1.1,-0.4,0.3,1.0,1.7,2.4,3.1,3.8]),
    (0.1,[-4.2,-3.2,-2.5,-1.8,-1.1,-0.4,0.3,1.0,1.7,2.4,3.1,3.9]),(0.0,[-3.5,-2.8,-2.1,-1.4,-0.7,0.0,0.7,1.4,2.1,2.8,3.5]),(-0.15,[-4.5,-3.5,-2.8,-2.1,-1.4,-0.7,0.0,0.7,1.4,2.1,2.8,3.6]),
    (-0.25,[-3.8,-3.1,-2.4,-1.7,-1.0,-0.3,0.4,1.1,1.8,2.5,3.2]),(-0.4,[-4.8,-3.7,-3.0,-2.3,-1.6,-0.9,-0.2,0.5,1.2,1.9,2.6,3.3]),(-0.5,[-4.0,-3.3,-2.6,-1.9,-1.2,-0.5,0.2,0.9,1.6,2.3,2.9]),
    (-0.65,[-5.0,-3.9,-3.2,-2.5,-1.8,-1.1,-0.4,0.3,1.0,1.8,2.9]),(-0.75,[-4.2,-3.5,-2.8,-2.1,-1.4,-0.7,0.0,0.7,1.4,2.4]),(-0.9,[-5.3,-4.1,-3.4,-2.7,-2.0,-1.3,-0.6,0.1,0.8,1.5,2.5]),
    (-1.0,[-4.5,-3.8,-3.1,-2.4,-1.7,-1.0,-0.3,0.4,1.1,1.9]),(-1.15,[-5.5,-4.3,-3.6,-2.9,-2.2,-1.5,-0.8,-0.1,0.6,1.7]),(-1.25,[-4.7,-4.0,-3.3,-2.6,-1.9,-1.2,-0.5,0.2,0.9,1.4]),
    (-1.4,[-5.7,-4.5,-3.8,-3.1,-2.4,-1.7,-1.0,-0.3,0.5,1.4]),(-1.5,[-4.8,-4.1,-3.4,-2.7,-2.0,-1.3,-0.6,0.1,1.0]),(-1.65,[-5.9,-4.7,-4.0,-3.3,-2.6,-1.9,-1.2,-0.5,0.3,1.1]),
    (-1.75,[-5.0,-4.3,-3.6,-2.9,-2.2,-1.5,-0.8,-0.1,0.6]),(-1.9,[-6.0,-4.8,-4.1,-3.4,-2.7,-2.0,-1.3,-0.6,0.1,0.9]),(-2.0,[-5.1,-4.4,-3.7,-3.0,-2.3,-1.6,-0.9,-0.2,0.4]),
    (-2.15,[-5.9,-4.7,-4.0,-3.3,-2.6,-1.9,-1.2,-0.4,0.6]),(-2.25,[-5.0,-4.3,-3.6,-2.9,-2.2,-1.5,-0.8,0.0]),(-2.4,[-5.8,-4.6,-3.9,-3.2,-2.5,-1.8,-1.0,-0.1]),
    (-2.5,[-4.9,-4.2,-3.5,-2.8,-2.1,-1.4,-0.7,-0.3]),(-2.65,[-5.7,-4.5,-3.8,-3.1,-2.4,-1.7,-0.9,0.1]),(-2.75,[-4.9,-4.2,-3.5,-2.8,-2.1,-1.4,-0.5]),
    (-2.9,[-5.6,-4.5,-3.8,-3.1,-2.4,-1.7,-1.0,-0.2]),(-3.0,[-4.8,-4.1,-3.4,-2.7,-2.0,-1.3,-0.7]),(-3.15,[-5.7,-4.5,-3.8,-3.1,-2.4,-1.6,-0.5]),(-3.3,[-4.9,-4.2,-3.5,-2.8,-2.1,-1.4,-1.0]),
    (-3.45,[-5.9,-4.5,-3.8,-3.0,-2.2,-1.5,-0.7]),(-3.6,[-5.0,-4.2,-3.4,-2.6,-1.8,-1.2]),(-3.75,[-6.0,-4.8,-4.0,-3.2,-2.4,-1.6,-0.8]),(-3.9,[-4.6,-3.8,-3.0,-2.2,-1.4]),
    (-4.05,[-6.2,-5.0,-4.2,-3.4,-2.6,-1.8,-1.0]),(-4.2,[-3.9,-3.1,-2.3,-1.5,-0.7]),(-4.45,[-6.2,-5.3,-4.2,-3.0,-2.4,-1.2,-0.4]),(-4.85,[-6.3,-5.4,-4.3,-3.2,-2.2,-1.0]),(-5.15,[-6.0,-4.6,-3.6,-2.7,-0.7]),
]

panels = [(points_a, fringe_a, core_a), (points_b, fringe_b, core_b), (points_c, fringe_c, core_c)]
axes_left = [87, 346, 604]


def panel_frame(points, fringe, core):
    obs = [p[0] for p in points + fringe]
    pred = [p[1] for p in points + fringe]
    for y, xs in core:
        obs += xs
        pred += [y] * len(xs)
    return pd.DataFrame({"observed": obs, "predicted": pred})


sns.set_theme(style="ticks")
plt.rcParams["font.family"] = ["Liberation Sans", "DejaVu Sans"]

fig = plt.figure(figsize=(8.12, 6.88), dpi=100)

for i, (points, fringe, core) in enumerate(panels):
    ax = fig.add_axes([axes_left[i] / 812, 81 / 688, 195 / 812, 561 / 688])
    df = panel_frame(points, fringe, core)
    sns.scatterplot(data=df, x="observed", y="predicted", ax=ax, color="#0f3bff",
                    s=9, linewidth=0, clip_on=False)
    ax.set_xlim(-20, 20)
    ax.set_ylim(-15, 15)
    ax.set_xticks(x_ticks)
    ax.set_yticks(y_ticks)
    ax.set_xlabel("")
    ax.set_ylabel("")
    ax.tick_params(direction="in", top=True, right=True, length=4, width=0.7,
                   color="black", labelcolor="black", labelsize=15.5)
    ax.tick_params(axis="x", pad=6)
    ax.tick_params(axis="y", pad=3)
    for spine in ax.spines.values():
        spine.set_visible(True)
        spine.set_color("black")
        spine.set_linewidth(1.1)
    ax.set_title(titles[i], fontsize=16, color="black", pad=12)

fig.text(445 / 812, 1 - 670 / 688, "Observed mRNA value", ha="center", va="center",
         fontsize=18.5, color="black")
fig.text(23 / 812, 1 - 326 / 688, "Predicted mRNA value", ha="center", va="center",
         rotation=90, fontsize=18.5, color="black")

fig.savefig("out.png", dpi=100)
